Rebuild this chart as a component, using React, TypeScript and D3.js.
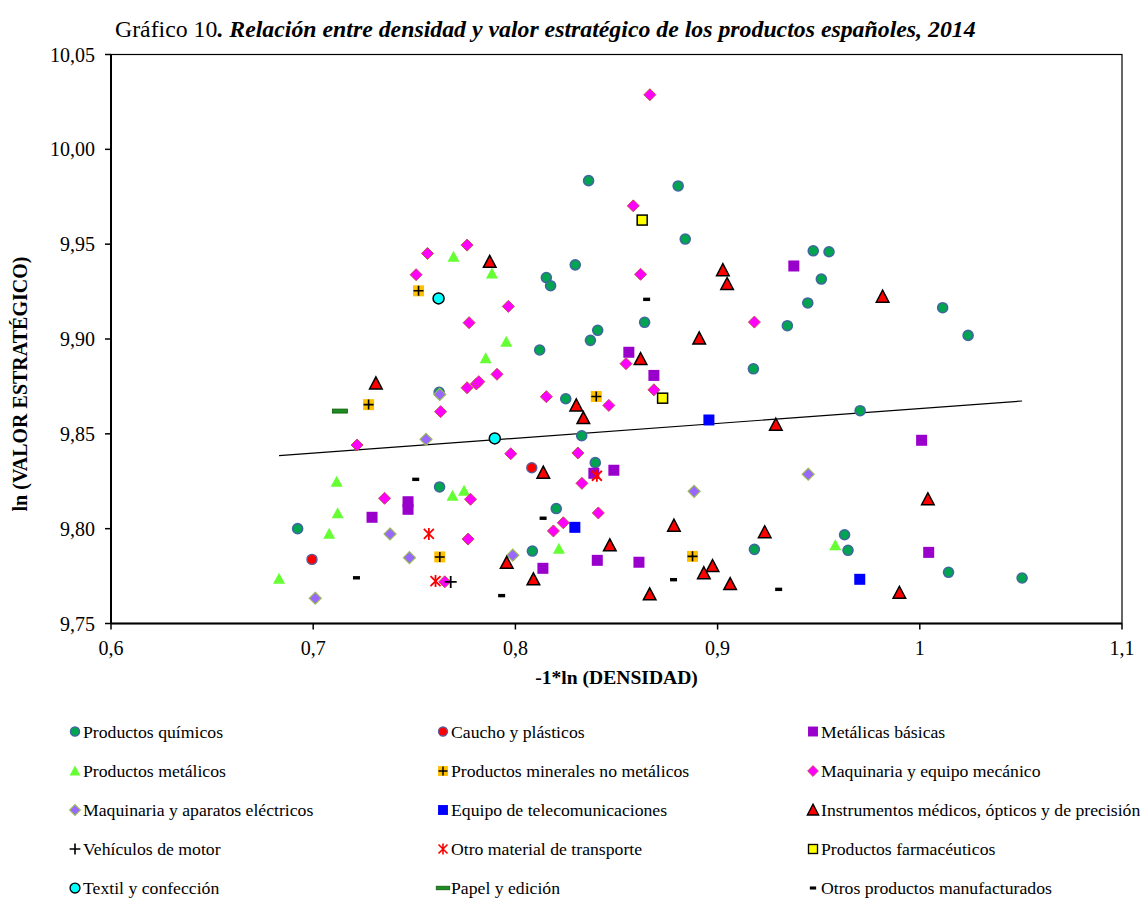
import React from "react";
import * as d3 from "d3";

type P = [number, number];

const quimicos: P[] = [[0.8362,9.9835],[0.8805,9.9807],[0.884,9.9527],[0.9473,9.9465],[0.9551,9.946],[0.8296,9.9391],[0.8153,9.9324],[0.8174,9.9281],[0.9513,9.9316],[0.9446,9.919],[0.9345,9.907],[0.8639,9.9088],[0.8407,9.9046],[0.8371,9.8993],[0.812,9.8942],[0.9177,9.8843],[0.7623,9.8719],[0.8249,9.8685],[0.8328,9.849],[0.8395,9.8348],[0.9705,9.8622],[0.7625,9.822],[0.8202,9.8106],[0.6923,9.8],[0.8084,9.7882],[0.9182,9.7891],[0.9628,9.7968],[0.9645,9.7886],[1.0113,9.9165],[1.0239,9.9019],[1.0142,9.777],[1.0506,9.774]];
const caucho: P[] = [[0.8081,9.8321],[0.6994,9.7838]];
const metalicasBasicas: P[] = [[0.9377,9.9385],[0.8561,9.893],[0.8685,9.8808],[0.8388,9.8292],[0.8487,9.8308],[1.0009,9.8466],[0.7469,9.8142],[0.7469,9.8102],[0.7291,9.806],[0.8136,9.7791],[0.8405,9.7833],[0.8611,9.7823],[1.0044,9.7875]];
const metalicos: P[] = [[0.7694,9.9434],[0.7884,9.9346],[0.7955,9.8986],[0.7853,9.8898],[0.7116,9.8248],[0.7689,9.8174],[0.7746,9.82],[0.7121,9.8081],[0.7079,9.7973],[0.6831,9.7736],[0.8215,9.7894],[0.9582,9.7912]];
const minerales: P[] = [[0.7521,9.9254],[0.7274,9.8654],[0.84,9.8697],[0.7626,9.7851],[0.8876,9.7854]];
const maqMecanico: P[] = [[0.8665,10.0288],[0.8583,9.9702],[0.7565,9.9451],[0.7761,9.9495],[0.7509,9.9339],[0.8619,9.9341],[0.7965,9.9172],[0.7771,9.9086],[0.9182,9.9089],[0.8547,9.887],[0.7909,9.8814],[0.7807,9.8763],[0.7819,9.8775],[0.7761,9.8743],[0.8685,9.8732],[0.8153,9.8696],[0.8462,9.865],[0.763,9.8617],[0.7217,9.8441],[0.7977,9.8395],[0.8309,9.8399],[0.7353,9.816],[0.7778,9.8155],[0.8329,9.8239],[0.841,9.8083],[0.8237,9.8031],[0.8188,9.7988],[0.7766,9.7945],[0.7651,9.772]];
const maqElectricos: P[] = [[0.7626,9.8708],[0.7558,9.8471],[0.738,9.7972],[0.7476,9.7847],[0.7987,9.786],[0.701,9.7633],[0.9448,9.8287],[0.8884,9.8197]];
const telecom: P[] = [[0.8957,9.8573],[0.8294,9.8007],[0.9703,9.7733]];
const instrumentos: P[] = [[0.7873,9.9407],[0.731,9.8766],[0.8138,9.8295],[0.7957,9.782],[0.8089,9.7733],[0.9026,9.9363],[0.9047,9.929],[0.8909,9.9003],[0.8619,9.8894],[0.8301,9.865],[0.8336,9.8583],[0.9288,9.8548],[0.8784,9.8016],[0.9233,9.7981],[0.8467,9.7912],[0.8975,9.7803],[0.8932,9.7765],[0.9062,9.7708],[0.8664,9.7654],[0.9816,9.9223],[1.004,9.8155],[0.9899,9.7662]];
const vehiculos: P[] = [[0.768,9.7719]];
const otroTransporte: P[] = [[0.7572,9.7972],[0.7605,9.7724],[0.8403,9.8279]];
const farmaceuticos: P[] = [[0.8627,9.9627],[0.8728,9.8688]];
const textil: P[] = [[0.762,9.9214],[0.7898,9.8476]];
const papel: P[] = [[0.7132,9.862]];
const otrosManuf: P[] = [[0.7507,9.826],[0.8649,9.9209],[0.8137,9.8055],[0.7214,9.7741],[0.7932,9.7647],[0.8782,9.7731],[0.9302,9.768]];

const trendX = [0.6831, 1.0506];
const trendY = [9.8385, 9.8673];

const xTicks = [0.6, 0.7, 0.8, 0.9, 1.0, 1.1];
const xTickLabels = ["0,6", "0,7", "0,8", "0,9", "1", "1,1"];
const yTicks = [9.75, 9.8, 9.85, 9.9, 9.95, 10.0, 10.05];
const yTickLabels = ["9,75", "9,80", "9,85", "9,90", "9,95", "10,00", "10,05"];

type Kind = "circle" | "redcircle" | "purpleSq" | "greenTri" | "orangePlus" | "magDiamond" | "lavDiamond" | "blueSq" | "redTri" | "blackPlus" | "asterisk" | "yellowSq" | "cyanCircle" | "greenDash" | "blackDash";

const seriesList: { name: string; data: P[]; kind: Kind }[] = [
  { name: "Productos químicos", data: quimicos, kind: "circle" },
  { name: "Caucho y plásticos", data: caucho, kind: "redcircle" },
  { name: "Metálicas básicas", data: metalicasBasicas, kind: "purpleSq" },
  { name: "Productos metálicos", data: metalicos, kind: "greenTri" },
  { name: "Productos minerales no metálicos", data: minerales, kind: "orangePlus" },
  { name: "Maquinaria y equipo mecánico", data: maqMecanico, kind: "magDiamond" },
  { name: "Maquinaria y aparatos eléctricos", data: maqElectricos, kind: "lavDiamond" },
  { name: "Equipo de telecomunicaciones", data: telecom, kind: "blueSq" },
  { name: "Instrumentos médicos, ópticos y de precisión", data: instrumentos, kind: "redTri" },
  { name: "Vehículos de motor", data: vehiculos, kind: "blackPlus" },
  { name: "Otro material de transporte", data: otroTransporte, kind: "asterisk" },
  { name: "Productos farmacéuticos", data: farmaceuticos, kind: "yellowSq" },
  { name: "Textil y confección", data: textil, kind: "cyanCircle" },
  { name: "Papel y edición", data: papel, kind: "greenDash" },
  { name: "Otros productos manufacturados", data: otrosManuf, kind: "blackDash" },
];

function Marker({ kind, x, y, s = 1 }: { kind: Kind; x: number; y: number; s?: number }) {
  const t = `translate(${x},${y}) scale(${s})`;
  switch (kind) {
    case "circle":
      return <circle transform={t} r={5} fill="#00A550" stroke="#41689C" strokeWidth={1.6} />;
    case "redcircle":
      return <circle transform={t} r={5} fill="#FF0000" stroke="#5B5B9B" strokeWidth={1.4} />;
    case "purpleSq":
      return <rect transform={t} x={-5.5} y={-5.5} width={11} height={11} fill="#9900CC" />;
    case "blueSq":
      return <rect transform={t} x={-5.5} y={-5.5} width={11} height={11} fill="#0000FF" />;
    case "greenTri":
      return <path transform={t} d="M0,-6 L6,5 L-6,5 Z" fill="#66FF33" />;
    case "redTri":
      return <path transform={t} d="M0,-6.5 L6.3,5.5 L-6.3,5.5 Z" fill="#FF0000" stroke="#000" strokeWidth={1.5} strokeLinejoin="miter" />;
    case "orangePlus":
      return (
        <g transform={t}>
          <rect x={-5.5} y={-5.5} width={11} height={11} fill="#FFC000" />
          <path d="M-5,0 H5 M0,-5 V5" stroke="#000" strokeWidth={1.6} />
        </g>
      );
    case "magDiamond":
      return <path transform={t} d="M0,-6 L6,0 L0,6 L-6,0 Z" fill="#FF00FF" stroke="#C0504D" strokeWidth={1} />;
    case "lavDiamond":
      return <path transform={t} d="M0,-6 L6,0 L0,6 L-6,0 Z" fill="#9966FF" stroke="#9BBB59" strokeWidth={1.2} />;
    case "blackPlus":
      return <path transform={t} d="M-6,0 H6 M0,-6 V6" stroke="#000" strokeWidth={1.8} fill="none" />;
    case "asterisk":
      return <path transform={t} d="M-5,-5 L5,5 M-5,5 L5,-5 M0,-6 V6" stroke="#FF0000" strokeWidth={1.8} fill="none" />;
    case "yellowSq":
      return <rect transform={t} x={-5} y={-5} width={10} height={10} fill="#FFFF00" stroke="#000" strokeWidth={1.5} />;
    case "cyanCircle":
      return <circle transform={t} r={5.5} fill="#00FFFF" stroke="#000" strokeWidth={1.5} />;
    case "greenDash":
      return <rect transform={t} x={-7.5} y={-2} width={15} height={4} fill="#1E8C1E" stroke="#0A5A0A" strokeWidth={0.8} />;
    case "blackDash":
      return <rect transform={t} x={-3.5} y={-1.7} width={7} height={3.4} fill="#000" />;
  }
  return null;
}

const W = 1145;
const H = 898;
const plot = { left: 111, right: 1122, top: 54.5, bottom: 623.5 };
const FONT = "'Liberation Serif', 'Times New Roman', Times, serif";
const ts = { fontFamily: FONT };

export default function App() {
  const x = d3.scaleLinear().domain([0.6, 1.1]).range([plot.left, plot.right]);
  const y = d3.scaleLinear().domain([9.75, 10.05]).range([plot.bottom, plot.top]);
  const line = d3.line<number>().x((_, i) => x(trendX[i])).y((_, i) => y(trendY[i]));

  const legendCols = [75, 443, 813];
  const legendRows = [731.5, 771, 810, 849, 888];

  return (
    <svg width={W} height={H} style={{ position: "absolute", left: 0, top: 0, background: "#fff" }}>
      <rect x={0} y={0} width={W} height={H} fill="#fff" />
      <text x={115} y={37} fontSize={23.8} style={ts}>
        <tspan>Gráfico 10</tspan>
        <tspan fontWeight="bold" fontStyle="italic">. Relación entre densidad y valor estratégico de los productos españoles, 2014</tspan>
      </text>

      <rect x={plot.left} y={plot.top} width={plot.right - plot.left} height={plot.bottom - plot.top} fill="none" stroke="#000" strokeWidth={1.2} />
      <line x1={plot.left} x2={plot.left} y1={plot.top} y2={plot.bottom} stroke="#000" strokeWidth={2} />
      <line x1={plot.left} x2={plot.right} y1={plot.bottom} y2={plot.bottom} stroke="#000" strokeWidth={2} />

      {yTicks.map((v, i) => (
        <g key={"y" + i}>
          <line x1={plot.left - 6} x2={plot.left} y1={y(v)} y2={y(v)} stroke="#000" strokeWidth={1.5} />
          <text x={95} y={y(v)} dy="0.35em" textAnchor="end" fontSize={20} style={ts}>{yTickLabels[i]}</text>
        </g>
      ))}
      {xTicks.map((v, i) => (
        <g key={"x" + i}>
          <line x1={x(v)} x2={x(v)} y1={plot.bottom} y2={plot.bottom + 6} stroke="#000" strokeWidth={1.5} />
          <text x={x(v)} y={655} textAnchor="middle" fontSize={20} style={ts}>{xTickLabels[i]}</text>
        </g>
      ))}

      <text x={(plot.left + plot.right) / 2} y={684} textAnchor="middle" fontSize={19.6} fontWeight="bold" style={ts}>-1*ln (DENSIDAD)</text>
      <text transform={`translate(27,384) rotate(-90)`} textAnchor="middle" fontSize={20} fontWeight="bold" style={ts}>ln (VALOR ESTRATÉGICO)</text>

      <path d={line([0, 1]) || ""} fill="none" stroke="#000" strokeWidth={1.2} />

      {seriesList.map((s) => (
        <g key={s.name}>
          {s.data.map((d, j) => (
            <Marker key={j} kind={s.kind} x={x(d[0])} y={y(d[1])} />
          ))}
        </g>
      ))}

      {seriesList.map((s, i) => {
        const cx = legendCols[i % 3];
        const cy = legendRows[Math.floor(i / 3)];
        return (
          <g key={"l" + i}>
            <Marker kind={s.kind} x={cx} y={cy} s={0.9} />
            <text x={cx + 8} y={cy} dy="0.35em" fontSize={17.7} style={ts}>{s.name}</text>
          </g>
        );
      })}
    </svg>
  );
}
